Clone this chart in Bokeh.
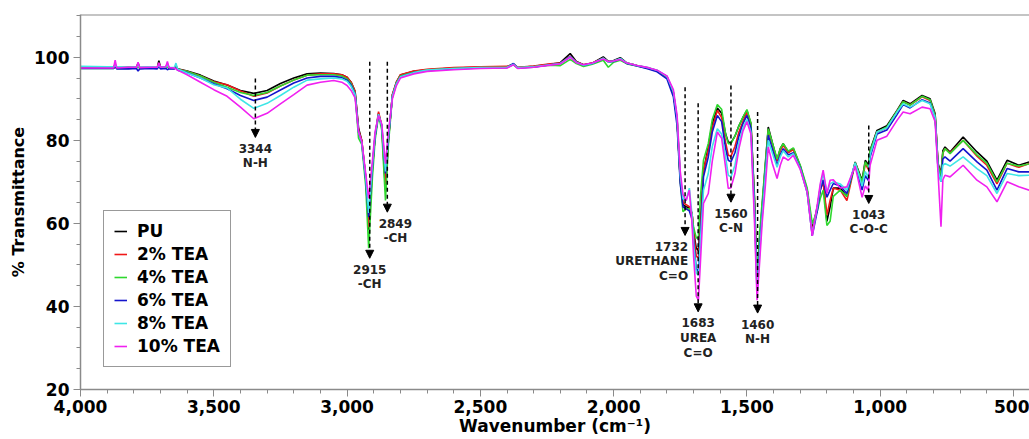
from bokeh.plotting import figure
from bokeh.models import Range1d, NumeralTickFormatter, FixedTicker, Arrow, NormalHead, Span, Label
from bokeh.embed import file_html
from bokeh.resources import INLINE

wavenumber = [4000, 3900, 3876, 3870, 3864, 3820, 3790, 3784, 3778, 3740,
              3712, 3706, 3700, 3680, 3674, 3668, 3648, 3642, 3636,
              3600, 3550,
              3500, 3450, 3400, 3350, 3300, 3250, 3200, 3150, 3100, 3050,
              3020, 3000, 2985, 2970, 2957, 2945, 2930, 2919, 2905, 2895,
              2882, 2870, 2856, 2845, 2830, 2815, 2800, 2750, 2700, 2600,
              2500, 2400, 2376, 2360, 2300, 2238, 2200, 2163, 2140, 2113,
              2080, 2039, 2020, 2000, 1975, 1950, 1912, 1870, 1837, 1800,
              1776, 1762, 1750, 1740, 1728, 1716, 1706, 1700, 1690, 1682,
              1675, 1663, 1645, 1630, 1611, 1595, 1580, 1570, 1560, 1545,
              1530, 1515, 1500, 1485, 1472, 1462, 1452, 1443, 1431, 1420,
              1405, 1387, 1375, 1364, 1345, 1326, 1300, 1274, 1255, 1236,
              1225, 1214, 1200, 1188, 1176, 1150, 1125, 1094, 1068, 1056,
              1045, 1038, 1012, 975, 937, 914, 888, 843, 813, 794,
              783, 772, 765, 757, 738, 689, 637, 600, 562, 524,
              480, 441]

pu = [97.5, 97.5, 97.5, 98.3, 97.5, 97.6, 97.6, 98.6, 97.5, 97.6,
      97.5, 99.2, 97.6, 97.6, 98.4, 97.5, 97.4, 98.0, 97.2,
      96.7, 95.7,
      94.3, 93.3, 92.0, 91.3, 92.0, 93.7, 95.0, 96.0, 96.2, 96.1,
      95.8, 95.2, 94.0, 91.8, 83.0, 80.0, 71.0, 58.5, 73.0, 81.0,
      86.5, 83.5, 68.0, 80.0, 91.0, 94.0, 95.7, 96.6, 97.0, 97.4,
      97.6, 97.7, 98.4, 97.5, 97.8, 98.3, 98.7, 100.9, 99.0, 98.2,
      98.6, 100.1, 99.0, 99.2, 99.9, 98.6, 98.0, 97.4, 96.8, 95.3,
      91.5, 85.0, 70.5, 64.5, 64.0, 63.8, 62.5, 58.0, 54.0, 53.5,
      60.0, 72.5, 78.5, 84.0, 87.8, 86.5, 81.5, 79.6, 79.4, 81.0,
      83.5, 85.5, 87.2, 84.0, 66.0, 46.0, 56.0, 64.0, 74.0, 83.2,
      79.5, 75.2, 78.0, 79.2, 77.2, 78.0, 73.8, 68.0, 58.5, 64.0,
      68.5, 70.5, 60.5, 64.0, 68.5, 68.5, 66.5, 74.8, 70.4, 75.2,
      74.0, 77.6, 82.4, 83.5, 87.2, 89.6, 88.8, 90.8, 90.0, 86.4,
      74.4, 72.0, 77.5, 78.4, 77.2, 80.8, 77.2, 75.0, 70.4, 75.2,
      74.0, 74.8]

tea2 = [97.4, 97.4, 97.4, 97.9, 97.4, 97.5, 97.5, 98.2, 97.4, 97.5,
        97.4, 98.6, 97.5, 97.5, 98.0, 97.4, 97.3, 97.8, 97.1,
        96.6, 95.5,
        94.1, 93.4, 91.9, 90.6, 91.4, 93.1, 94.5, 95.7, 96.0, 96.0,
        95.8, 95.2, 94.0, 91.8, 82.5, 80.0, 71.0, 59.0, 73.0, 81.0,
        86.9, 83.5, 69.0, 80.0, 91.0, 94.0, 95.8, 96.7, 97.1, 97.5,
        97.7, 97.8, 98.3, 97.6, 97.9, 98.4, 98.6, 100.3, 98.9, 98.2,
        98.6, 99.8, 98.9, 99.1, 99.6, 98.6, 98.0, 97.4, 96.8, 95.3,
        91.5, 85.0, 70.5, 65.0, 64.5, 64.0, 62.5, 58.0, 52.0, 51.8,
        58.5, 72.8, 77.6, 83.0, 87.2, 85.5, 79.5, 76.4, 76.2, 78.5,
        82.0, 84.5, 86.8, 83.8, 66.0, 45.0, 55.0, 63.5, 73.5, 82.6,
        79.0, 75.0, 77.5, 78.8, 77.0, 77.8, 73.6, 68.0, 58.0, 63.5,
        68.0, 70.0, 62.0, 65.5, 68.5, 68.0, 65.5, 74.5, 69.5, 74.5,
        73.0, 77.0, 82.0, 83.0, 87.0, 89.3, 88.5, 90.5, 89.6, 86.0,
        74.0, 71.5, 77.0, 78.0, 77.0, 80.0, 76.2, 74.0, 69.5, 74.5,
        73.5, 74.4]

tea4 = [97.3, 97.3, 97.3, 97.7, 97.3, 97.3, 97.4, 97.9, 97.3, 97.4,
        97.4, 98.3, 97.4, 97.4, 97.8, 97.3, 97.3, 97.6, 97.0,
        96.6, 95.5,
        94.0, 92.8, 91.5, 90.8, 91.5, 93.1, 94.5, 95.7, 95.8, 95.8,
        95.5, 94.8, 93.6, 91.4, 80.5, 79.0, 69.0, 54.0, 71.0, 80.0,
        86.0, 82.5, 65.5, 79.0, 90.5, 93.8, 95.5, 96.4, 96.9, 97.3,
        97.5, 97.6, 98.2, 97.4, 97.7, 98.1, 98.0, 99.5, 98.5, 97.8,
        98.3, 99.3, 97.6, 98.8, 99.3, 98.4, 97.9, 97.3, 96.7, 95.2,
        91.3, 84.8, 70.0, 62.8, 63.5, 63.5, 62.0, 59.0, 56.5, 56.5,
        66.0, 75.2, 79.2, 85.0, 88.6, 87.5, 81.5, 79.2, 79.2, 81.0,
        83.5, 85.6, 87.4, 84.2, 67.0, 47.0, 58.0, 65.0, 74.5, 82.8,
        79.5, 75.5, 78.0, 79.2, 77.4, 78.2, 74.0, 68.5, 60.0, 63.0,
        66.0, 68.0, 59.5, 60.5, 66.5, 68.0, 66.5, 74.6, 70.0, 74.8,
        73.5, 77.4, 82.0, 83.2, 87.0, 89.3, 88.5, 90.6, 89.8, 86.0,
        74.0, 71.5, 77.0, 78.0, 76.8, 80.0, 76.5, 74.5, 70.0, 74.5,
        73.8, 74.3]

tea6 = [97.3, 97.3, 97.3, 97.8, 97.2, 97.2, 97.3, 96.7, 97.2, 97.3,
        97.2, 97.8, 97.2, 97.3, 97.0, 97.2, 97.2, 97.5, 96.9,
        96.3, 95.0,
        93.6, 92.4, 90.8, 89.6, 90.4, 92.1, 93.8, 95.0, 95.4, 95.4,
        95.1, 94.5, 93.3, 91.2, 82.0, 79.5, 70.5, 61.5, 73.5, 81.0,
        86.2, 83.5, 72.0, 80.5, 90.5, 93.6, 95.3, 96.3, 96.8, 97.2,
        97.4, 97.5, 98.5, 97.4, 97.6, 98.2, 98.5, 100.2, 98.8, 98.1,
        98.5, 99.7, 98.9, 99.0, 99.6, 98.5, 97.9, 97.2, 96.5, 94.8,
        90.5, 83.5, 69.5, 64.0, 63.5, 63.0, 61.0, 56.0, 49.0, 48.5,
        56.0, 71.2, 76.0, 82.0, 86.0, 84.5, 78.0, 75.2, 74.8, 77.0,
        81.0, 84.0, 86.0, 83.0, 64.5, 44.0, 54.0, 62.0, 72.0, 81.2,
        78.0, 74.0, 76.5, 78.0, 76.5, 77.0, 73.4, 67.5, 57.0, 63.0,
        68.0, 70.4, 66.3, 68.0, 69.6, 69.0, 67.2, 74.4, 68.0, 71.5,
        70.4, 76.0, 81.5, 82.5, 86.2, 88.6, 87.8, 89.8, 89.0, 85.5,
        73.0, 70.0, 75.5, 76.0, 75.0, 78.0, 74.8, 72.8, 68.0, 73.2,
        72.4, 72.4]

tea8 = [97.8, 97.7, 97.7, 98.0, 97.7, 97.6, 97.7, 98.0, 97.6, 97.7,
        97.6, 98.2, 97.6, 97.7, 98.0, 97.6, 97.5, 98.6, 97.2,
        96.2, 95.0,
        93.4, 92.6, 89.9, 87.7, 88.9, 90.8, 92.8, 94.5, 94.8, 95.0,
        94.8, 94.2, 93.0, 91.0, 82.0, 79.5, 71.0, 62.5, 74.0, 81.5,
        86.3, 83.5, 72.5, 81.0, 90.6, 93.6, 95.3, 96.3, 96.9, 97.3,
        97.5, 97.6, 98.3, 97.5, 97.7, 98.2, 98.5, 100.1, 98.8, 98.1,
        98.5, 99.8, 98.9, 99.1, 99.7, 98.6, 98.0, 97.5, 96.9, 95.4,
        91.8, 85.5, 71.5, 66.0, 65.5, 68.5, 62.0, 55.0, 48.0, 47.5,
        55.0, 68.0, 72.0, 78.5, 82.8, 81.5, 76.0, 71.6, 71.2, 74.0,
        79.5, 83.0, 85.0, 82.0, 63.0, 43.0, 53.0, 61.5, 71.5, 80.0,
        77.0, 73.5, 76.0, 77.5, 76.0, 76.8, 73.2, 67.5, 57.5, 64.0,
        69.0, 72.0, 67.5, 69.5, 70.0, 69.5, 68.0, 74.6, 69.0, 72.5,
        71.0, 76.5, 82.0, 83.0, 86.8, 88.8, 88.0, 89.6, 88.8, 85.5,
        73.0, 70.0, 74.0, 74.4, 73.8, 76.0, 73.2, 71.5, 67.2, 72.0,
        71.5, 71.6]

tea10 = [97.4, 97.4, 97.4, 99.3, 97.4, 97.6, 97.6, 98.8, 97.5, 97.6,
         97.6, 98.7, 97.6, 97.7, 99.0, 97.5, 97.4, 97.2, 96.9,
         95.8, 94.0,
         92.2, 90.6, 88.0, 85.2, 86.5, 88.8, 91.0, 93.3, 94.0, 94.4,
         94.0, 93.2, 92.0, 90.2, 82.0, 79.8, 72.0, 66.0, 75.0, 82.0,
         86.0, 84.0, 74.4, 82.0, 90.0, 93.2, 95.0, 96.0, 96.6, 97.0,
         97.3, 97.4, 98.2, 97.3, 97.6, 98.1, 98.4, 100.0, 98.7, 98.2,
         98.6, 99.6, 99.0, 99.1, 99.5, 98.6, 98.0, 97.5, 96.9, 95.5,
         92.2, 86.0, 72.5, 67.0, 65.5, 68.0, 60.0, 52.0, 42.5, 41.5,
         50.0, 64.8, 67.2, 75.0, 82.0, 80.5, 73.5, 68.4, 68.6, 72.0,
         78.0, 82.2, 84.5, 81.5, 61.0, 41.5, 51.0, 60.0, 69.0, 78.4,
         74.5, 70.8, 74.0, 76.0, 75.2, 76.4, 73.0, 67.5, 57.0, 64.5,
         69.5, 72.8, 67.2, 70.4, 70.5, 68.5, 68.8, 73.8, 66.3, 69.0,
         68.0, 74.0, 80.0, 81.0, 84.8, 86.8, 86.4, 88.0, 87.6, 84.5,
         72.0, 59.2, 70.5, 71.6, 71.2, 74.0, 70.4, 68.8, 65.2, 70.0,
         68.8, 68.0]

series_names = ["PU", "2% TEA", "4% TEA", "6% TEA", "8% TEA", "10% TEA"]
series_values = [pu, tea2, tea4, tea6, tea8, tea10]
series_colors = ["#000000", "#f01818", "#2ed82e", "#1414cc", "#3ee6e6", "#f020f0"]

x_ticks = [4000, 3500, 3000, 2500, 2000, 1500, 1000, 500]
y_ticks = [20, 40, 60, 80, 100]

ann_wn = [3344, 2915, 2849, 1732, 1683, 1560, 1460, 1043]
ann_top = [94.9, 98.9, 98.9, 92.8, 88.9, 93.2, 86.8, 83.6]
ann_tip = [80.7, 51.6, 62.7, 57.1, 38.7, 65.1, 38.4, 64.8]
ann_text = [["3344", "N-H"], ["2915", "-CH"], ["2849", "-CH"],
            ["1732", "URETHANE", "C=O"], ["1683", "UREA", "C=O"],
            ["1560", "C-N"], ["1460", "N-H"], ["1043", "C-O-C"]]
ann_align = ["center", "center", "center", "right", "center", "center", "center", "center"]
ann_dx = [0, 0, 8, 3, 0, 0, 0, 0]

for s in series_values:
    assert len(s) == len(wavenumber)

FONT = "DejaVu Sans"
GRAY = "#8a8a8a"

p = figure(width=1029, height=439, output_backend="svg", toolbar_location=None,
           x_range=Range1d(4000, 440), y_range=Range1d(20, 110.3),
           min_border_left=80, min_border_right=0, min_border_top=14, min_border_bottom=50)
p.outline_line_color = None
p.grid.visible = False
p.background_fill_color = "white"
p.border_fill_color = "white"

for name, vals, col in zip(series_names, series_values, series_colors):
    p.line(wavenumber, vals, line_color=col, line_width=1.6, legend_label=name)

p.add_layout(Span(location=110.3, dimension="width", line_color=GRAY, line_width=2))

for ax in (p.xaxis[0], p.yaxis[0]):
    ax.axis_line_color = GRAY
    ax.axis_line_width = 1.5
    ax.major_tick_line_color = GRAY
    ax.minor_tick_line_color = GRAY
    ax.major_tick_in = 0
    ax.minor_tick_in = 0
    ax.major_tick_out = 7
    ax.minor_tick_out = 4
    ax.major_label_text_font = FONT
    ax.major_label_text_font_style = "bold"
    ax.major_label_text_font_size = "17px"
    ax.major_label_text_color = "black"
    ax.axis_label_text_font = FONT
    ax.axis_label_text_font_style = "bold"
    ax.axis_label_text_color = "black"

p.xaxis.ticker = FixedTicker(ticks=x_ticks, minor_ticks=list(range(500, 4001, 100)))
p.yaxis.ticker = FixedTicker(ticks=y_ticks, minor_ticks=list(range(20, 111, 5)))
p.xaxis.formatter = NumeralTickFormatter(format="0,0")
p.xaxis.axis_label = "Wavenumber (cm\u207b\u00b9)"
p.yaxis.axis_label = "% Transmittance"
p.xaxis.axis_label_text_font_size = "17px"
p.yaxis.axis_label_text_font_size = "16px"
p.xaxis.major_label_standoff = 3
p.xaxis.axis_label_standoff = 0
p.yaxis.major_label_standoff = 4
p.yaxis.axis_label_standoff = 3

for wn, top, tip, lines, al, dx in zip(ann_wn, ann_top, ann_tip, ann_text, ann_align, ann_dx):
    p.add_layout(Arrow(x_start=wn, y_start=top, x_end=wn, y_end=tip,
                       line_color="black", line_width=1.5, line_dash="4 3",
                       end=NormalHead(size=8, fill_color="black", line_color="black", line_width=1)))
    for i, t in enumerate(lines):
        p.add_layout(Label(x=wn, y=tip, y_offset=-(11 + 15 * i), x_offset=dx,
                           text=t, text_align=al,
                           text_baseline="middle", text_font=FONT, text_font_style="bold",
                           text_font_size="12px", text_color="#222222"))

lg = p.legend[0]
lg.location = (23, 22)
lg.label_text_font = FONT
lg.label_text_font_style = "bold"
lg.label_text_font_size = "17px"
lg.label_text_color = "black"
lg.glyph_width = 13
lg.glyph_height = 20
lg.label_height = 20
lg.label_standoff = 10
lg.spacing = 3
lg.padding = 10
lg.margin = 0
lg.border_line_color = "#333333"
lg.border_line_width = 1
lg.background_fill_alpha = 1

open("out.html", "w").write(file_html(p, INLINE))
